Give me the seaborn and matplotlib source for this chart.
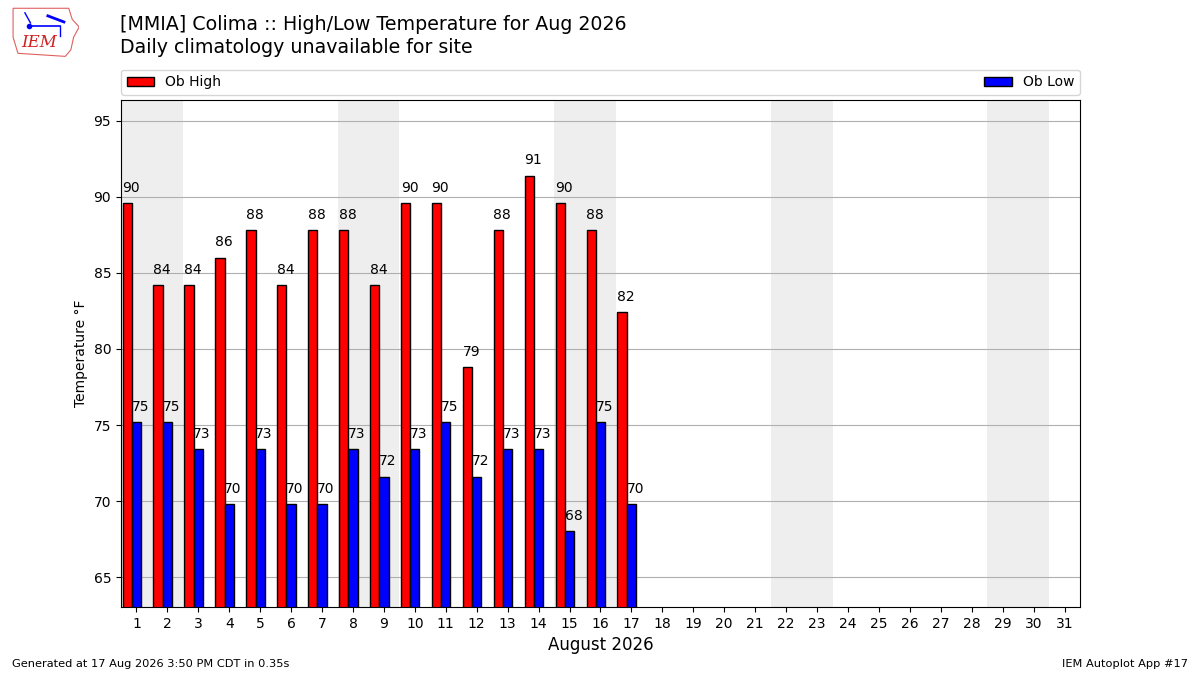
import matplotlib
matplotlib.use("Agg")
import matplotlib.pyplot as plt
from matplotlib.patches import Polygon
import numpy as np
import seaborn as sns

# data (deg F, converted from whole deg C obs)
days = list(range(1, 18))
highs = [89.6, 84.2, 84.2, 86.0, 87.8, 84.2, 87.8, 87.8, 84.2, 89.6,
         89.6, 78.8, 87.8, 91.4, 89.6, 87.8, 82.4]
lows = [75.2, 75.2, 73.4, 69.8, 73.4, 69.8, 69.8, 73.4, 71.6, 73.4,
        75.2, 71.6, 73.4, 73.4, 68.0, 75.2, 69.8]
month_days = list(range(1, 32))
saturdays = [1, 8, 15, 22, 29]
yticks = [65, 70, 75, 80, 85, 90, 95]

fig = plt.figure(figsize=(12, 6.75), dpi=100)
ax = fig.add_axes([0.1008, 0.1007, 0.7992, 0.7513])

for d in saturdays:
    ax.axvspan(d - 0.5, d + 1.5, color="#eeeeee", zorder=0, lw=0)

hi_x = np.array(days) - 0.3
lo_x = np.array(days, dtype=float)
sns.barplot(x=hi_x, y=highs, native_scale=True, width=0.3, color="red",
            saturation=1, edgecolor="black", linewidth=1, errorbar=None,
            label="Ob High", ax=ax, zorder=2)
sns.barplot(x=lo_x, y=lows, native_scale=True, width=0.3, color="blue",
            saturation=1, edgecolor="black", linewidth=1, errorbar=None,
            label="Ob Low", ax=ax, zorder=2)

for x, v in zip(hi_x, highs):
    ax.annotate(f"{v:.0f}", (x - 0.16, v), xytext=(0, 6), textcoords="offset points",
                ha="left", va="bottom", fontsize=10)
for x, v in zip(lo_x, lows):
    ax.annotate(f"{v:.0f}", (x - 0.16, v), xytext=(0, 6), textcoords="offset points",
                ha="left", va="bottom", fontsize=10)

ax.set_xlim(0.5, 31.5)
ax.set_ylim(63.03, 96.38)
ax.set_xticks(month_days)
ax.set_xticklabels([str(d) for d in month_days])
ax.set_yticks(yticks)
ax.tick_params(labelsize=10)
ax.set_axisbelow(True)
ax.yaxis.grid(True, color="#b0b0b0", lw=0.8, zorder=1)
ax.xaxis.grid(False)
for s in ax.spines.values():
    s.set_color("black")
ax.set_xlabel("August 2026", fontsize=12)
ax.set_ylabel("Temperature °F", fontsize=10)

ax.legend(bbox_to_anchor=(0, 1.01, 1, 0.06), loc="lower left", mode="expand",
          ncol=2, borderaxespad=0, fontsize=10)

fig.text(0.1, 0.978, "[MMIA] Colima :: High/Low Temperature for Aug 2026\n"
         "Daily climatology unavailable for site", fontsize=13.7, va="top",
         linespacing=1.3)
fig.text(0.01, 0.012, "Generated at 17 Aug 2026 3:50 PM CDT in 0.35s", fontsize=8.2)
fig.text(0.99, 0.012, "IEM Autoplot App #17", fontsize=8.2, ha="right")

# rough IEM logo
lax = fig.add_axes([0.008, 0.915, 0.058, 0.075])
lax.set_xlim(0, 1)
lax.set_ylim(0, 1)
lax.axis("off")
outline = [(0.05, 0.97), (0.85, 0.97), (0.9, 0.75), (1.0, 0.6), (0.92, 0.4),
           (0.88, 0.15), (0.8, 0.02), (0.12, 0.08), (0.05, 0.4)]
lax.add_patch(Polygon(outline, closed=True, fill=False, ec="#e06060", lw=0.8))
lax.plot([0.28, 0.72], [0.62, 0.62], color="blue", lw=1.2)
lax.plot([0.72, 0.72], [0.62, 0.42], color="blue", lw=1)
lax.plot([0.22, 0.3], [0.88, 0.68], color="blue", lw=1)
lax.plot([0.55, 0.78], [0.82, 0.7], color="blue", lw=2)
lax.plot([0.28], [0.62], "o", color="blue", ms=3)
lax.text(0.42, 0.12, "IEM", color="#d02020", fontsize=12, family="serif",
         style="italic", ha="center", va="bottom")

fig.savefig("out.png", dpi=100)
